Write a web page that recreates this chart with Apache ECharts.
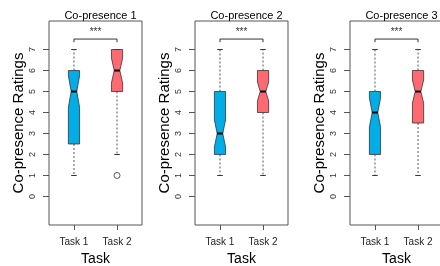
<!DOCTYPE html>
<html>
<head>
<meta charset="utf-8">
<script src="https://cdn.jsdelivr.net/npm/echarts@6/dist/echarts.min.js"></script>
<style>
  html, body { margin: 0; padding: 0; background: #fff; }
  #chart { width: 440px; height: 266px; }
</style>
</head>
<body>
<div id="chart"></div>
<script>
// data
var tasks = ['Task 1', 'Task 2'];
var panelTitles = ['Co-presence 1', 'Co-presence 2', 'Co-presence 3'];
var yTicks = [0, 1, 2, 3, 4, 5, 6, 7];
// [min, q1, median, q3, max] for Task 1 / Task 2
var stats1 = [[1, 2.5, 5, 6, 7], [2, 5, 6, 7, 7]];
var stats2 = [[1, 2, 3, 5, 7], [1, 4, 5, 6, 7]];
var stats3 = [[1, 2, 4, 5, 7], [1, 3.5, 5, 6, 7]];
// notch [low, high]
var notch1 = [[4.25, 5.75], [5.4, 6.6]];
var notch2 = [[2.35, 3.65], [4.55, 5.45]];
var notch3 = [[3.3, 4.7], [4.45, 5.55]];
// outliers [task, value]
var outliers1 = [[2, 1]];
var outliers2 = [];
var outliers3 = [];
var sigLabel = '***';
var sigLevel = 7.5;

var boxColors = ['#00ADE6', '#FF6A72'];
var gridLefts = [49, 195, 350];

function boxData(stats, notch) {
  return stats.map(function (s, i) {
    return [i + 1, s[0], s[1], notch[i][0], s[2], notch[i][1], s[3], s[4]];
  });
}

function renderBox(params, api) {
  var x = api.value(0);
  var w = api.size([0.26, 0])[0] / 2;
  var pt = function (v) { return api.coord([x, v]); };
  var cx = pt(0)[0];
  var yMin = pt(api.value(1))[1], yQ1 = pt(api.value(2))[1], yNl = pt(api.value(3))[1];
  var yMed = pt(api.value(4))[1], yNh = pt(api.value(5))[1], yQ3 = pt(api.value(6))[1];
  var yMax = pt(api.value(7))[1];
  var dash = { stroke: '#555', lineWidth: 1, lineDash: [2, 2] };
  var solid = { stroke: '#333', lineWidth: 1 };
  return {
    type: 'group',
    children: [
      { type: 'line', shape: { x1: cx, y1: yQ3, x2: cx, y2: yMax }, style: dash },
      { type: 'line', shape: { x1: cx, y1: yQ1, x2: cx, y2: yMin }, style: dash },
      { type: 'line', shape: { x1: cx - w / 2, y1: yMax, x2: cx + w / 2, y2: yMax }, style: solid },
      { type: 'line', shape: { x1: cx - w / 2, y1: yMin, x2: cx + w / 2, y2: yMin }, style: solid },
      {
        type: 'polygon',
        shape: {
          points: [
            [cx - w, yQ1], [cx + w, yQ1], [cx + w, yNl], [cx + w / 2, yMed], [cx + w, yNh],
            [cx + w, yQ3], [cx - w, yQ3], [cx - w, yNh], [cx - w / 2, yMed], [cx - w, yNl]
          ]
        },
        style: { fill: boxColors[x - 1], stroke: '#333', lineWidth: 0.8 }
      },
      { type: 'line', shape: { x1: cx - w / 2, y1: yMed, x2: cx + w / 2, y2: yMed }, style: { stroke: '#000', lineWidth: 2 } }
    ]
  };
}

function renderSig(params, api) {
  var a = api.coord([api.value(0), api.value(2)]);
  var b = api.coord([api.value(1), api.value(2)]);
  var drop = api.coord([api.value(0), api.value(2) - 0.15])[1];
  var txt = api.coord([(api.value(0) + api.value(1)) / 2, api.value(2) + 0.32]);
  return {
    type: 'group',
    children: [
      { type: 'polyline', shape: { points: [[a[0], drop], a, b, [b[0], drop]] }, style: { stroke: '#333', lineWidth: 1, fill: null } },
      { type: 'text', x: txt[0], y: txt[1], style: { text: sigLabel, fontSize: 10, fill: '#333', align: 'center', verticalAlign: 'middle', fontFamily: 'Liberation Sans' } }
    ]
  };
}

var allStats = [stats1, stats2, stats3];
var allNotch = [notch1, notch2, notch3];
var allOut = [outliers1, outliers2, outliers3];

var grids = [], xAxes = [], yAxes = [], series = [], titles = [];
for (var p = 0; p < 3; p++) {
  grids.push({
    left: gridLefts[p], top: 21, width: 93, height: 204, show: true,
    borderColor: '#555', borderWidth: 1, backgroundColor: 'transparent',
    containLabel: false, outerBoundsMode: 'none'
  });
  titles.push({
    text: panelTitles[p], left: gridLefts[p] + 46.5, top: 5, textAlign: 'center',
    textStyle: { fontSize: 11, fontWeight: 'normal', color: '#000', fontFamily: 'Liberation Sans' }
  });
  xAxes.push({
    gridIndex: p, type: 'value', min: 0.42, max: 2.58,
    name: 'Task', nameLocation: 'middle', nameGap: 18,
    nameTextStyle: { fontSize: 14, color: '#000', fontFamily: 'Liberation Sans' },
    axisLine: { show: false, onZero: false },
    axisTick: { show: true, length: 5, customValues: [1, 2], lineStyle: { color: '#555' } },
    axisLabel: { customValues: [1, 2], margin: 12, fontSize: 10, color: '#222', fontFamily: 'Liberation Sans', formatter: function (v) { return tasks[Math.round(v) - 1]; } },
    splitLine: { show: false }
  });
  yAxes.push({
    gridIndex: p, type: 'value', min: -1.36, max: 8.36,
    name: 'Co-presence Ratings', nameLocation: 'middle', nameGap: 23,
    nameTextStyle: { fontSize: 15, color: '#000', fontFamily: 'Liberation Sans' },
    axisLine: { show: false, onZero: false },
    axisTick: { show: true, length: 6, customValues: yTicks, lineStyle: { color: '#555' } },
    axisLabel: { customValues: yTicks, rotate: 90, margin: 12, fontSize: 9, color: '#333', fontFamily: 'Liberation Sans' },
    splitLine: { show: false }
  });
  series.push({
    type: 'custom', xAxisIndex: p, yAxisIndex: p,
    renderItem: renderBox, data: boxData(allStats[p], allNotch[p]),
    encode: { x: 0, y: [1, 7] }, silent: true
  });
  series.push({
    type: 'scatter', xAxisIndex: p, yAxisIndex: p, data: allOut[p], z: 5,
    symbol: 'circle', symbolSize: 6, itemStyle: { color: 'rgba(0,0,0,0)', borderColor: '#333', borderWidth: 1 }, silent: true
  });
  series.push({
    type: 'custom', xAxisIndex: p, yAxisIndex: p,
    renderItem: renderSig, data: [[1, 2, sigLevel]],
    encode: { x: [0, 1], y: 2 }, silent: true
  });
}

var chart = echarts.init(document.getElementById('chart'), null, { renderer: 'canvas' });
chart.setOption({
  animation: false,
  backgroundColor: '#fff',
  title: titles,
  grid: grids,
  xAxis: xAxes,
  yAxis: yAxes,
  series: series
});
</script>
</body>
</html>
